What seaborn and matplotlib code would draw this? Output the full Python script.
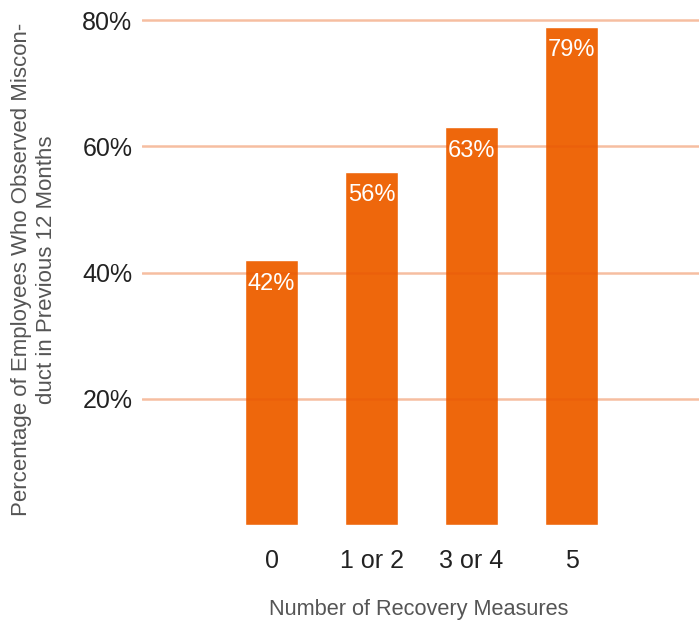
import matplotlib
matplotlib.use('Agg')
import matplotlib.pyplot as plt
import seaborn as sns

# data
categories = ['0', '1 or 2', '3 or 4', '5']
values = [42, 56, 63, 79]
yticks = [20, 40, 60, 80]
ytick_labels = ['20%', '40%', '60%', '80%']

sns.set_style('white')
plt.rcParams['font.family'] = ['Liberation Sans', 'DejaVu Sans']

fig = plt.figure(figsize=(6.99, 6.24), dpi=100)
ax = fig.add_axes([142 / 699, 99 / 624, 557 / 699, 525 / 624])

sns.barplot(x=categories, y=values, color='#EE670C', saturation=1,
            width=0.53, ax=ax)

for i, v in enumerate(values):
    ax.annotate(f'{v}%', (i, v), xytext=(0, -17), textcoords='offset points',
                ha='center', va='center', color='white', fontsize=17)

ax.set_xlim(-1.295, 4.275)
ax.set_ylim(0, 83.2)
ax.set_yticks(yticks)
ax.set_yticklabels(ytick_labels)
ax.set_axisbelow(False)
ax.yaxis.grid(True, color='#E8560A', alpha=0.38, linewidth=1.8)
ax.xaxis.grid(False)
sns.despine(ax=ax, left=True, bottom=True)
ax.tick_params(axis='y', length=0, pad=7, labelsize=18, labelcolor='#222222')
ax.tick_params(axis='x', length=0, pad=17, labelsize=18, labelcolor='#222222')

ax.set_xlabel('Number of Recovery Measures', fontsize=15.7, color='#555555')
ax.xaxis.set_label_coords(0.497, -0.14)
ax.set_ylabel('Percentage of Employees Who Observed Miscon-\nduct in Previous 12 Months',
              fontsize=16, color='#555555', linespacing=1.3)
ax.yaxis.set_label_coords(-0.152, 0.486)

plt.savefig('out.png', dpi=100)
